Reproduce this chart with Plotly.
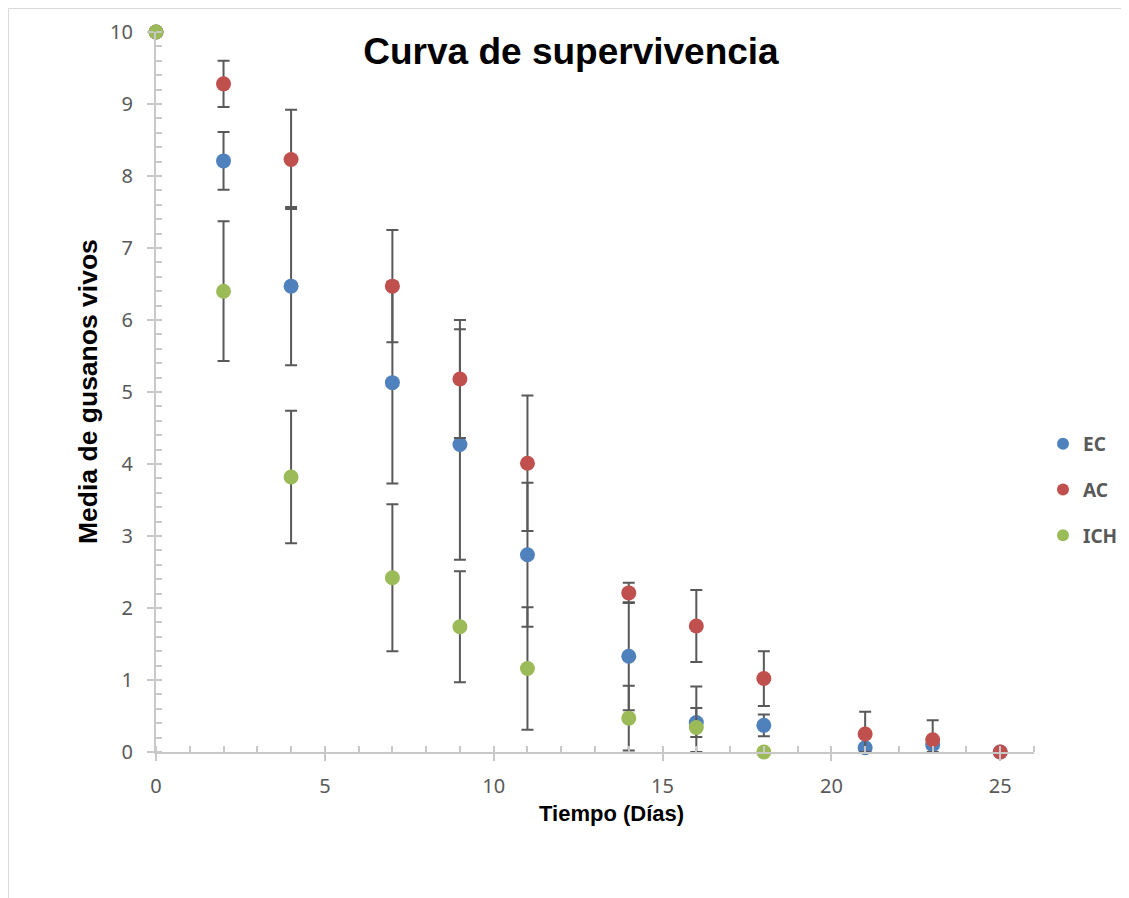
import plotly.graph_objects as go

# ---- data ----
dias_ec = [0, 2, 4, 7, 9, 11, 14, 16, 18, 21, 23, 25]
ec = [10, 8.21, 6.47, 5.13, 4.27, 2.74, 1.33, 0.41, 0.37, 0.06, 0.10, 0]
ec_err = [0, 0.40, 1.10, 1.40, 1.60, 1.00, 0.75, 0.20, 0.15, 0, 0, 0]

dias_ac = [0, 2, 4, 7, 9, 11, 14, 16, 18, 21, 23, 25]
ac = [10, 9.28, 8.23, 6.47, 5.18, 4.01, 2.21, 1.75, 1.02, 0.25, 0.17, 0]
ac_err = [0, 0.32, 0.69, 0.78, 0.82, 0.94, 0.14, 0.50, 0.38, 0.31, 0.27, 0]

dias_ich = [0, 2, 4, 7, 9, 11, 14, 16, 18]
ich = [10, 6.40, 3.82, 2.42, 1.74, 1.16, 0.47, 0.34, 0]
ich_err = [0, 0.97, 0.92, 1.02, 0.77, 0.85, 0.45, 0.57, 0]

series = [
    ("EC", dias_ec, ec, ec_err, "#4F81BD"),
    ("AC", dias_ac, ac, ac_err, "#C0504D"),
    ("ICH", dias_ich, ich, ich_err, "#9BBB59"),
]

OFF = 8  # page body margin
W, H = 1129 - OFF, 898 - OFF
# plot area in page pixels
PX0, PX1, PY0, PY1 = 156, 1034, 32, 752
L, T = PX0 - OFF, PY0 - OFF
R = W - (PX1 - OFF)
B = H - (PY1 - OFF)
PW, PH = PX1 - PX0, PY1 - PY0


def px_x(px):
    return (px - PX0) / PW


def px_y(py):
    return (PY1 - py) / PH


fig = go.Figure()
for name, xs, ys, es, col in series:
    minus = [min(e, y) for e, y in zip(es, ys)]
    fig.add_trace(go.Scatter(
        x=xs, y=ys, mode="markers", name=f"<b>{name}</b>", legendgroup=name,
        marker=dict(color=col, size=15, line=dict(width=0)),
        error_y=dict(type="data", symmetric=False, array=es, arrayminus=minus,
                     color="#595959", thickness=2, width=6),
        cliponaxis=False,
    ))

# helper trace for the overlay axes (crossing major ticks)
fig.add_trace(go.Scatter(x=[None], y=[None], xaxis="x2", yaxis="y2",
                         showlegend=False, hoverinfo="skip"))

tickfont = dict(family="Noto Sans", size=20, color="#595959")
fig.update_layout(
    width=W, height=H,
    margin=dict(l=L, r=R, t=T, b=B, autoexpand=False),
    paper_bgcolor="white", plot_bgcolor="white",
    title=dict(text="<b>Curva de supervivencia</b>", x=(571 - OFF) / W,
               xanchor="center", y=1 - (51 - OFF) / H, yanchor="middle",
               font=dict(family="Liberation Sans", size=37, color="black")),
    xaxis=dict(range=[0, 26], dtick=5, tick0=0, showgrid=False, zeroline=False,
               showline=True, linecolor="#C8C8C8", linewidth=2,
               ticks="outside", ticklen=7, tickwidth=2, tickcolor="#C8C8C8",
               minor=dict(ticks="inside", dtick=1, ticklen=6, tickwidth=1.5,
                          tickcolor="#C8C8C8"),
               tickfont=tickfont, ticklabelstandoff=8),
    yaxis=dict(range=[0, 10], dtick=1, tick0=0, showgrid=False, zeroline=False,
               showline=True, linecolor="#C8C8C8", linewidth=2,
               ticks="outside", ticklen=7, tickwidth=2, tickcolor="#C8C8C8",
               minor=dict(ticks="inside", dtick=0.2, ticklen=6, tickwidth=1.5,
                          tickcolor="#C8C8C8"),
               tickfont=tickfont, ticklabelstandoff=10),
    xaxis2=dict(range=[0, 26], dtick=5, tick0=0, overlaying="x", showgrid=False,
                zeroline=False, showline=False, showticklabels=False,
                ticks="inside", ticklen=6, tickwidth=2, tickcolor="#C8C8C8"),
    yaxis2=dict(range=[0, 10], dtick=1, tick0=0, overlaying="y", showgrid=False,
                zeroline=False, showline=False, showticklabels=False,
                ticks="inside", ticklen=6, tickwidth=2, tickcolor="#C8C8C8"),
    legend=dict(x=px_x(1043), xanchor="left", y=px_y(490), yanchor="middle",
                font=dict(family="Noto Sans", size=19, color="#595959"),
                tracegroupgap=18, itemsizing="constant", itemwidth=30,
                bgcolor="rgba(0,0,0,0)"),
    showlegend=True,
)

fig.add_annotation(text="<b>Tiempo (Días)</b>", xref="paper", yref="paper",
                   x=px_x(611), y=px_y(813), xanchor="center", yanchor="middle",
                   showarrow=False,
                   font=dict(family="Liberation Sans", size=22, color="black"))
fig.add_annotation(text="<b>Media de gusanos vivos</b>", xref="paper", yref="paper",
                   x=px_x(88), y=px_y(392), xanchor="center", yanchor="middle",
                   textangle=-90, showarrow=False,
                   font=dict(family="Liberation Sans", size=26.5, color="black"))

# chart outer border
fig.add_shape(type="rect", xref="paper", yref="paper",
              x0=px_x(8.5), y0=px_y(905), x1=px_x(1140), y1=px_y(8.5),
              line=dict(color="#D9D9D9", width=1), layer="below")

fig.write_html("out.html")
